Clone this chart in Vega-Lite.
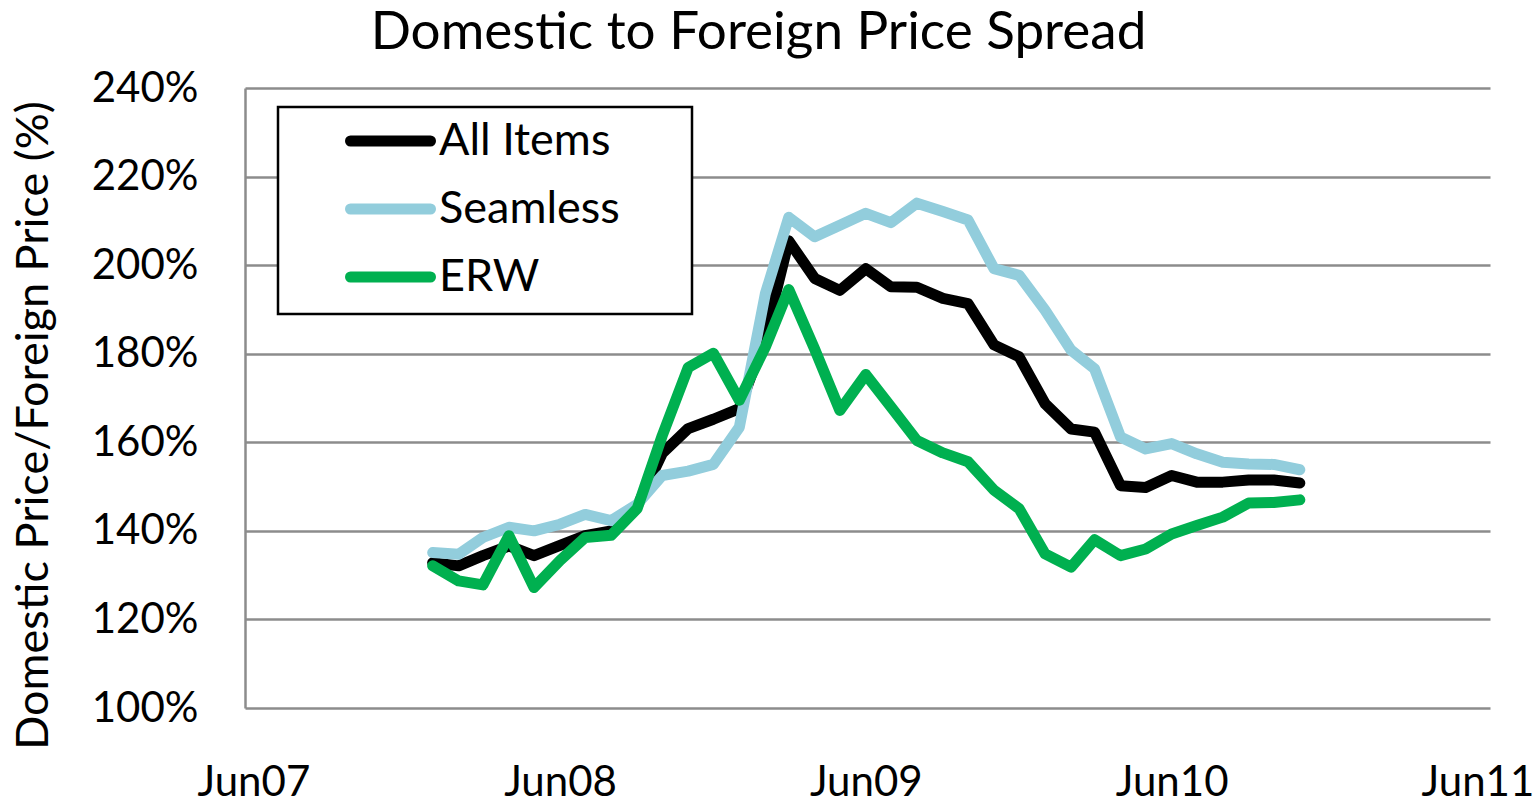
{
  "$schema": "https://vega.github.io/schema/vega-lite/v6.json",
  "autosize": {"type": "none"},
  "padding": {"left": 245, "top": 88, "right": 47, "bottom": 95},
  "width": 1245,
  "height": 620,
  "background": "white",
  "config": {
    "font": "Lato",
    "view": {"stroke": null}
  },
  "title": {
    "text": "Domestic to Foreign Price Spread",
    "fontSize": 53,
    "fontWeight": "normal",
    "font": "Lato",
    "color": "black",
    "anchor": "middle",
    "frame": "group",
    "dx": -109,
    "dy": 76,
    "baseline": "bottom",
    "offset": 30
  },
  "data": {
    "values": [
      {"date": "2008-01-01", "All Items": 132.8, "Seamless": 135.1, "ERW": 132.1},
      {"date": "2008-02-01", "All Items": 132.1, "Seamless": 134.7, "ERW": 128.7},
      {"date": "2008-03-01", "All Items": 134.4, "Seamless": 138.5, "ERW": 127.8},
      {"date": "2008-04-01", "All Items": 136.6, "Seamless": 140.8, "ERW": 138.9},
      {"date": "2008-05-01", "All Items": 134.4, "Seamless": 140.0, "ERW": 127.2},
      {"date": "2008-06-01", "All Items": 136.7, "Seamless": 141.5, "ERW": 133.3},
      {"date": "2008-07-01", "All Items": 138.9, "Seamless": 143.7, "ERW": 138.5},
      {"date": "2008-08-01", "All Items": 140.0, "Seamless": 142.3, "ERW": 139.0},
      {"date": "2008-09-01", "All Items": 145.5, "Seamless": 146.0, "ERW": 145.0},
      {"date": "2008-10-01", "All Items": 157.5, "Seamless": 152.5, "ERW": 161.5},
      {"date": "2008-11-01", "All Items": 163.1, "Seamless": 153.5, "ERW": 176.9},
      {"date": "2008-12-01", "All Items": 165.2, "Seamless": 155.0, "ERW": 180.1},
      {"date": "2009-01-01", "All Items": 167.6, "Seamless": 163.4, "ERW": 169.5},
      {"date": "2009-02-01", "All Items": 184.0, "Seamless": 193.5, "ERW": 181.5},
      {"date": "2009-03-01", "All Items": 205.5, "Seamless": 210.8, "ERW": 194.5},
      {"date": "2009-04-01", "All Items": 197.0, "Seamless": 206.4, "ERW": 181.0},
      {"date": "2009-05-01", "All Items": 194.3, "Seamless": 209.0, "ERW": 167.2},
      {"date": "2009-06-01", "All Items": 199.2, "Seamless": 211.7, "ERW": 175.3},
      {"date": "2009-07-01", "All Items": 195.1, "Seamless": 209.6, "ERW": 168.0},
      {"date": "2009-08-01", "All Items": 195.0, "Seamless": 214.0, "ERW": 160.4},
      {"date": "2009-09-01", "All Items": 192.5, "Seamless": 212.1, "ERW": 157.6},
      {"date": "2009-10-01", "All Items": 191.3, "Seamless": 210.2, "ERW": 155.6},
      {"date": "2009-11-01", "All Items": 182.0, "Seamless": 199.2, "ERW": 149.2},
      {"date": "2009-12-01", "All Items": 179.3, "Seamless": 197.7, "ERW": 145.0},
      {"date": "2010-01-01", "All Items": 168.7, "Seamless": 189.8, "ERW": 134.8},
      {"date": "2010-02-01", "All Items": 163.0, "Seamless": 180.8, "ERW": 131.8},
      {"date": "2010-03-01", "All Items": 162.3, "Seamless": 176.6, "ERW": 138.0},
      {"date": "2010-04-01", "All Items": 150.2, "Seamless": 161.2, "ERW": 134.4},
      {"date": "2010-05-01", "All Items": 149.8, "Seamless": 158.5, "ERW": 135.9},
      {"date": "2010-06-01", "All Items": 152.5, "Seamless": 159.7, "ERW": 139.3},
      {"date": "2010-07-01", "All Items": 151.0, "Seamless": 157.4, "ERW": 141.2},
      {"date": "2010-08-01", "All Items": 151.0, "Seamless": 155.5, "ERW": 143.1},
      {"date": "2010-09-01", "All Items": 151.5, "Seamless": 155.1, "ERW": 146.3},
      {"date": "2010-10-01", "All Items": 151.5, "Seamless": 155.0, "ERW": 146.4},
      {"date": "2010-11-01", "All Items": 150.8, "Seamless": 153.8, "ERW": 147.0}
    ]
  },
  "transform": [
    {"fold": ["All Items", "Seamless", "ERW"], "as": ["series", "value"]}
  ],
  "mark": {"type": "line", "strokeWidth": 11, "strokeCap": "round", "strokeJoin": "round"},
  "encoding": {
    "x": {
      "field": "date",
      "type": "temporal",
      "scale": {
        "type": "utc",
        "domain": [
          {"year": 2007, "month": 5, "date": 22, "utc": true},
          {"year": 2011, "month": 6, "date": 16, "utc": true}
        ]
      },
      "axis": {
        "title": null,
        "values": [
          {"year": 2007, "month": 6, "date": 1, "utc": true},
          {"year": 2008, "month": 6, "date": 1, "utc": true},
          {"year": 2009, "month": 6, "date": 1, "utc": true},
          {"year": 2010, "month": 6, "date": 1, "utc": true},
          {"year": 2011, "month": 6, "date": 1, "utc": true}
        ],
        "format": "%b%y",
        "labelFontSize": 42,
        "labelColor": "black",
        "labelPadding": 54,
        "labelBaseline": "top",
        "labelFlush": false,
        "labelOverlap": false,
        "ticks": false,
        "domain": false,
        "grid": false
      }
    },
    "y": {
      "field": "value",
      "type": "quantitative",
      "scale": {"domain": [100, 240], "nice": false, "zero": false},
      "axis": {
        "title": "Domestic Price/Foreign Price (%)",
        "titleFontSize": 45,
        "titleFontWeight": "normal",
        "titleColor": "black",
        "titleAngle": -90,
        "titleAlign": "center",
        "titleBaseline": "middle",
        "titleX": -212,
        "titleY": 337,
        "values": [100, 120, 140, 160, 180, 200, 220, 240],
        "labelExpr": "datum.value + '%'",
        "labelFontSize": 42,
        "labelColor": "black",
        "labelPadding": 47,
        "labelFlush": false,
        "ticks": false,
        "domain": true,
        "domainColor": "#8C8C8C",
        "domainWidth": 2.5,
        "grid": true,
        "gridColor": "#8C8C8C",
        "gridWidth": 2.5
      }
    },
    "color": {
      "field": "series",
      "type": "nominal",
      "scale": {
        "domain": ["All Items", "Seamless", "ERW"],
        "range": ["#000000", "#92CDDC", "#00B050"]
      },
      "legend": {
        "title": null,
        "orient": "none",
        "legendX": 33,
        "legendY": 19,
        "direction": "vertical",
        "padding": 14,
        "strokeColor": "black",
        "fillColor": "white",
        "symbolType": "stroke",
        "symbolSize": 6400,
        "symbolStrokeWidth": 11,
        "symbolOffset": 53,
        "labelOffset": 3,
        "clipHeight": 40,
        "rowPadding": 23,
        "labelFontSize": 45,
        "labelColor": "black",
        "labelLimit": 600,
        "labelExpr": "datum.label + '\u00a0\u00a0\u00a0\u00a0\u00a0\u200b'",
        "encode": {
          "symbols": {"update": {"strokeCap": {"value": "round"}}},
          "legend": {"update": {"strokeWidth": {"value": 2.5}}}
        }
      }
    }
  }
}
